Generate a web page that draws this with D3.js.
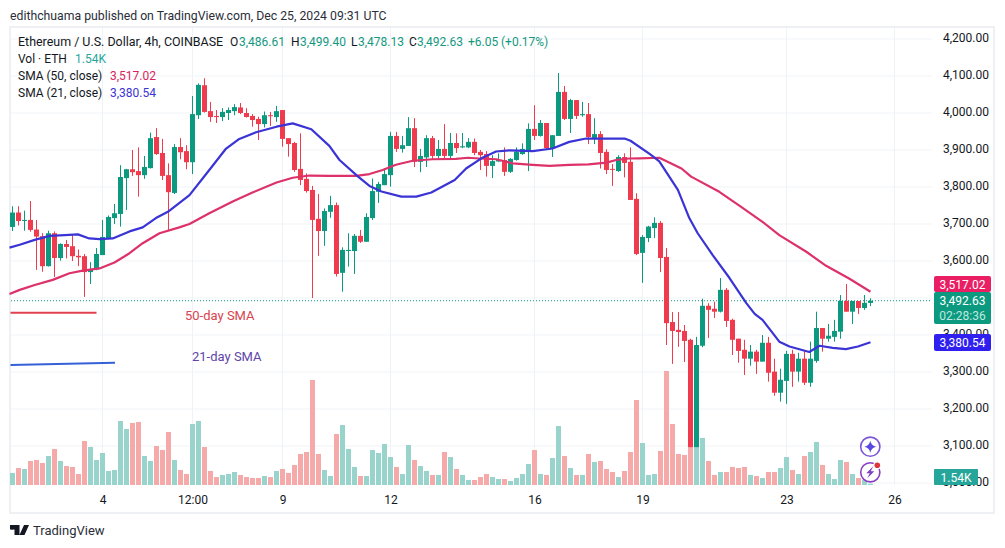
<!DOCTYPE html>
<html><head><meta charset="utf-8">
<script src="https://cdn.jsdelivr.net/npm/d3@7"></script>
<style>html,body{margin:0;padding:0;background:#fff;overflow:hidden}svg{display:block}text{font-family:Roboto,sans-serif}</style>
</head><body><svg id="c" width="1005" height="548"></svg>
<script>
const opens=[3692,3731,3709,3711,3685,3667,3586,3675,3608,3646,
3640,3614,3613,3570,3577,3616,3662,3716,3727,3824,
3848,3843,3832,3851,3935,3892,3832,3784,3908,3897,
3867,3994,4075,4005,3992,3989,4000,4005,4015,4000,
3992,3984,3970,3994,3989,4008,3932,3919,3849,3822,
3792,3714,3681,3733,3751,3568,3627,3627,3668,3652,
3716,3787,3805,3832,3938,3903,3911,3959,3868,3880,
3932,3884,3903,3884,3919,3907,3907,3922,3895,3889,
3857,3869,3873,3841,3873,3889,3900,3957,3938,3973,
3905,3938,4057,3984,4035,3994,3997,3932,3943,3895,
3849,3843,3881,3868,3768,3622,3662,3689,3703,3611,
3435,3414,3411,3387,3097,3371,3479,3471,3463,3522,
3441,3390,3360,3336,3355,3328,3379,3301,3244,3276,
3349,3301,3336,3271,3330,3419,3390,3395,3409,3492,
3463,3492,3473,3486.61];
const highs=[3748,3748,3736,3762,3711,3675,3682,3680,3648,3657,
3671,3631,3619,3597,3635,3711,3723,3754,3859,3849,
3900,3907,3884,3947,3959,3930,3864,3916,3932,3913,
4046,4080,4094,4030,4008,4013,4015,4024,4027,4013,
3997,3990,4004,4003,4019,4008,3932,3922,3945,3837,
3803,3781,3742,3776,3758,3637,3675,3673,3684,3729,
3823,3814,3850,3949,3949,3938,3989,3986,3903,3940,
3938,3927,3970,3946,3945,3946,3932,3931,3900,3897,
3886,3891,3907,3878,3907,3918,3972,4021,3981,3973,
3940,4108,4073,4038,4035,4030,4027,3986,3951,3902,
3862,3886,3891,3907,3783,3670,3695,3718,3708,3635,
3462,3462,3427,3390,3395,3498,3486,3490,3554,3527,
3444,3390,3387,3373,3360,3400,3395,3336,3309,3357,
3360,3352,3357,3382,3463,3419,3430,3441,3508,3538,
3492,3492,3508,3499.40];
const lows=[3681,3696,3682,3679,3576,3571,3585,3557,3601,3607,
3600,3586,3503,3538,3575,3616,3660,3700,3693,3738,
3830,3774,3822,3850,3887,3819,3682,3781,3875,3848,
3835,3984,4001,3976,3973,3978,3981,3994,3997,3988,
3963,3927,3961,3965,3976,3909,3882,3841,3805,3785,
3500,3614,3641,3717,3558,3517,3585,3565,3649,3652,
3711,3757,3805,3801,3895,3893,3911,3854,3840,3854,
3875,3877,3878,3877,3892,3905,3905,3886,3846,3828,
3824,3868,3830,3838,3871,3887,3843,3927,3936,3900,
3881,3938,3981,3946,3984,3990,3916,3916,3850,3835,
3803,3841,3826,3765,3616,3541,3651,3662,3570,3373,
3322,3368,3327,3097,3097,3367,3392,3446,3461,3422,
3346,3325,3292,3317,3295,3328,3274,3236,3220,3214,
3260,3274,3265,3260,3325,3355,3382,3382,3390,3463,
3430,3457,3468,3478.13];
const closes=[3731,3708,3711,3684,3666,3586,3675,3608,3646,3638,
3613,3610,3570,3577,3619,3665,3719,3729,3827,3848,
3840,3832,3854,3932,3889,3830,3786,3908,3894,3867,
3997,4076,4003,3989,3989,4003,4008,4016,4000,3989,
3981,3970,3994,3992,4005,3930,3916,3846,3819,3789,
3711,3681,3735,3751,3565,3630,3630,3668,3652,3719,
3789,3808,3835,3938,3903,3913,3959,3868,3884,3932,
3884,3903,3884,3919,3905,3910,3922,3892,3886,3857,
3870,3873,3841,3876,3895,3903,3957,3938,3973,3905,
3940,4057,3984,4035,3992,3997,3935,3943,3892,3846,
3847,3881,3865,3765,3619,3665,3693,3703,3608,3432,
3411,3408,3384,3097,3373,3479,3468,3463,3522,3438,
3387,3357,3336,3355,3328,3379,3298,3244,3279,3349,
3301,3336,3271,3336,3419,3390,3398,3411,3492,3463,
3492,3473,3487,3492.63];
const volumes=[13.9,19.6,18.5,27.7,28.9,25.4,33.5,41.6,27.7,21.9,
20.8,12.7,50.8,43.9,28.9,37,16.2,17.3,73.9,64.7,
71.6,72.8,33.5,27.7,45,40.4,61.2,28.9,17.3,12.7,
70.5,73.9,43.9,16.2,9.2,11.6,12.7,15,11.6,9.2,
8.1,8.1,10.4,9.2,16.2,18.5,13.9,23.1,35.8,38.1,
121.3,35.8,17.3,10.4,58.9,69.3,41.6,20.8,10.4,10.4,
40.4,37,47.4,32.3,20.8,12.7,46.2,28.9,21.9,16.2,
11.6,11.6,38.1,32.3,18.5,11.6,5.8,5.8,9.2,12.7,
9.2,6.9,6.9,4.6,8.1,12.7,24.3,40.4,12.7,11.6,
31.2,68.1,33.5,19.6,11.6,11.6,35.8,26.6,27.7,18.5,
15,9.2,16.2,38.1,98.2,48.5,11.6,12.7,39.3,131.7,
70.5,35.8,34.7,43.9,43.9,54.3,27.7,11.6,15,15,
20.8,19.6,20.8,11.6,10.4,8.1,15,15,19.6,32.3,
17.3,12.7,33.5,38.1,49.7,23.1,12.7,6.9,28.9,26.6,
12.7,8.1,5.8,1.54];
const sma21Bars=[-0.5,1.2,3.7,6.2,8.7,10.9,12.8,14.5,16.7,19.5,21.7,23.9,25.9,29.5,32.8,35.6,37.8,40.6,44,46.7,49.8,52.8,54.5,57.6,59.5,61.5,64.8,67.3,69.8,73.7,75.6,78.4,80.6,82.8,86.7,90,92.8,95.6,99,102,103,106.3,107.8,110.9,112.8,114.2,116.7,119.5,122.3,123.7,125,127.8,129.5,132.8,134.5,136.7,138.9,140.9,143];
const sma21=[3636,3644,3657,3668,3670,3672,3661,3659,3661,3680,3691,3716,3733,3778,3846,3904,3930,3948,3963,3972,3956,3911,3873,3828,3803,3788,3774,3774,3785,3819,3850,3880,3896,3899,3897,3904,3922,3931,3931,3931,3925,3888,3869,3792,3716,3675,3616,3554,3486,3457,3441,3382,3369,3354,3371,3365,3362,3369,3380.54];
const sma50Bars=[-0.5,1.2,3.7,6.7,9.5,11.7,14.5,17,19.5,21.7,24.5,27.8,29.5,32.8,36.7,40,44,46.7,49.5,52.8,54.5,57.3,59.5,61.7,63.9,66.7,70,73.9,75.9,77.8,80.6,83.4,86.7,89.5,92.8,96,99,100.6,102.8,104.5,107.8,111.5,113.1,117.8,121.2,125,127.8,132.3,135.6,139.5,143];
const sma50=[3511,3522,3535,3549,3567,3574,3580,3596,3621,3648,3675,3691,3700,3729,3761,3785,3812,3825,3831,3830,3830,3830,3835,3846,3860,3871,3875,3876,3879,3877,3875,3864,3860,3857,3860,3861,3866,3873,3877,3877.5,3879,3850,3828,3787,3749,3706,3670,3625,3587,3552,3517.02];
const priceTicks=[3000,3100,3200,3300,3400,3500,3600,3700,3800,3900,4000,4100,4200];
const timeTickBars=[15,30,45,63,87,105,129,147];
const timeTickLabels=["4","12:00","9","12","16","19","23","26"];

const UP="#0b9a80",DOWN="#ef3b4d",UP_V="#98d4cc",DOWN_V="#f5aaa9",BLUE="#3a33d6",RED="#dd3269";
const svg=d3.select("#c");
const x=d3.scaleLinear().domain([0,143]).range([12.5,870.5]);
const y=d3.scaleLinear().domain([3000,4200]).range([483,39]);
const yv=d3.scaleLinear().domain([0,155]).range([485,350.8]);
const fmt=d3.format(",.2f");
const idx=d3.range(closes.length);

svg.append("rect").attr("x",10).attr("y",27).attr("width",984).attr("height",486).attr("fill","#fff").attr("stroke","#eef0f4").attr("stroke-width",2);

// grid
svg.append("g").selectAll("line").data(priceTicks).join("line").attr("x1",11).attr("x2",932).attr("y1",d=>y(d)).attr("y2",d=>y(d)).attr("stroke","#f0f3f6");
svg.append("g").selectAll("line").data(timeTickBars).join("line").attr("x1",d=>x(d)).attr("x2",d=>x(d)).attr("y1",28).attr("y2",485).attr("stroke","#f0f3f6");

// volume
svg.append("g").selectAll("rect").data(idx).join("rect").attr("x",i=>x(i)-2.5).attr("width",5)
 .attr("y",i=>yv(volumes[i])).attr("height",i=>yv(0)-yv(volumes[i]))
 .attr("fill",i=>closes[i]>=opens[i]?UP_V:DOWN_V);

// last price line
svg.append("line").attr("x1",11).attr("x2",932).attr("y1",y(3492.63)).attr("y2",y(3492.63)).attr("stroke",UP).attr("stroke-dasharray","1 2");

// candles
const cg=svg.append("g");
cg.selectAll("rect.w").data(idx).join("rect").attr("class","w").attr("x",i=>x(i)-0.5).attr("width",1)
 .attr("y",i=>y(highs[i])).attr("height",i=>y(lows[i])-y(highs[i]))
 .attr("fill",i=>closes[i]>=opens[i]?UP:DOWN);
cg.selectAll("rect.b").data(idx).join("rect").attr("class","b").attr("x",i=>x(i)-2.5).attr("width",5)
 .attr("y",i=>y(Math.max(opens[i],closes[i]))).attr("height",i=>Math.max(1,Math.abs(y(opens[i])-y(closes[i]))))
 .attr("fill",i=>closes[i]>=opens[i]?UP:DOWN);

// SMAs
const mk=d3.line().x(d=>x(d[0])).y(d=>y(d[1])).curve(d3.curveLinear);
svg.append("path").attr("d",mk(d3.zip(sma50Bars,sma50))).attr("fill","none").attr("stroke",RED).attr("stroke-width",2.2).attr("stroke-linejoin","round");
svg.append("path").attr("d",mk(d3.zip(sma21Bars,sma21))).attr("fill","none").attr("stroke",BLUE).attr("stroke-width",2.2).attr("stroke-linejoin","round");

// annotations
svg.append("line").attr("x1",10.5).attr("x2",96.5).attr("y1",312.7).attr("y2",312.7).attr("stroke","#e0404f").attr("stroke-width",2);
svg.append("line").attr("x1",10.5).attr("x2",115).attr("y1",365).attr("y2",362.7).attr("stroke","#3560d8").attr("stroke-width",2);
svg.append("text").attr("x",185).attr("y",320).attr("font-size",13).attr("fill","#d9434e").text("50-day SMA");
svg.append("text").attr("x",192).attr("y",361).attr("font-size",13).attr("fill","#5e45a8").text("21-day SMA");

// price axis
const ay=svg.append("g").attr("transform","translate(935,-1)").call(d3.axisRight(y).tickValues(priceTicks).tickSize(0).tickPadding(8).tickFormat(d=>d===3500?"":fmt(d)));
ay.select(".domain").remove();
ay.selectAll("text").attr("font-size",12).attr("fill","#131722").style("font-family","Roboto,sans-serif");

// time axis
const ax=svg.append("g").attr("transform","translate(0,491)").call(d3.axisBottom(x).tickValues(timeTickBars).tickSize(0).tickPadding(4).tickFormat((d,i)=>timeTickLabels[i]));
ax.select(".domain").remove();
ax.selectAll("text").attr("font-size",12).attr("fill","#131722").style("font-family","Roboto,sans-serif");

// price tags
function tag(yy,h,col,t,t2){
 svg.append("rect").attr("x",934).attr("y",yy).attr("width",57).attr("height",h).attr("rx",2).attr("fill",col);
 svg.append("text").attr("x",962.5).attr("y",yy+12.5).attr("text-anchor","middle").attr("font-size",12).attr("fill","#fff").text(t);
 if(t2)svg.append("text").attr("x",962.5).attr("y",yy+27.5).attr("text-anchor","middle").attr("font-size",12).attr("fill","#bfe8df").text(t2);
}
tag(276,16,"#e91e63",fmt(3517.02));
tag(292,32,UP,fmt(3492.63),"02:28:36");
tag(334,17,"#2f20f0",fmt(3380.54));
svg.append("rect").attr("x",934).attr("y",469).attr("width",44).attr("height",16).attr("rx",1).attr("fill","#26a69a");
svg.append("text").attr("x",956).attr("y",481.5).attr("text-anchor","middle").attr("font-size",12).attr("fill","#fff").text("1.54K");

// header
svg.append("text").attr("x",10).attr("y",19.5).attr("font-size",12.25).attr("fill","#2a2e39").text("edithchuama published on TradingView.com, Dec 25, 2024 09:31 UTC");
const lg=svg.append("g").attr("font-size",12);
function t(px,py,s,c){lg.append("text").attr("x",px).attr("y",py).attr("fill",c).text(s);}
const TXT="#131722",G="#14997f";
t(18,46,"Ethereum / U.S. Dollar, 4h, COINBASE",TXT);
lg.select("text").attr("font-size",12.45);
t(230,46,"O",TXT);t(239,46,"3,486.61",G);
t(291,46,"H",TXT);t(300,46,"3,499.40",G);
t(351,46,"L",TXT);t(358,46,"3,478.13",G);
t(409,46,"C",TXT);t(417,46,"3,492.63",G);
t(468,46,"+6.05",G);t(501,46,"(+0.17%)",G);
t(18,63,"Vol · ETH",TXT);t(75,63,"1.54K","#26a69a");
t(18,80,"SMA (50, close)",TXT);t(110,80,"3,517.02","#d81e5b");
t(18,97,"SMA (21, close)",TXT);t(110,97,"3,380.54","#3a33d6");

// icons
svg.append("circle").attr("cx",870.3).attr("cy",446.7).attr("r",9.6).attr("fill","#fff").attr("stroke","#7e57d8").attr("stroke-width",1.6);
svg.append("path").attr("transform","translate(870.3,446.7)").attr("d","M0,-6 Q1,-1 6,0 Q1,1 0,6 Q-1,1 -6,0 Q-1,-1 0,-6Z").attr("fill","#5a48e0");
svg.append("circle").attr("cx",870.3).attr("cy",472.3).attr("r",9.6).attr("fill","#fff").attr("stroke","#8a3fc0").attr("stroke-width",1.6);
svg.append("path").attr("transform","translate(870.3,472.3)").attr("d","M3,-6 L-4,1 L-0.5,1 L-3,6 L4,-1 L0.5,-1Z").attr("fill","#7c3fc4");
svg.append("circle").attr("cx",877.3).attr("cy",465.3).attr("r",4).attr("fill","#fff");
svg.append("circle").attr("cx",877.3).attr("cy",465.3).attr("r",2.8).attr("fill","#e0343f");

// logo
svg.append("path").attr("transform","translate(10,525)").attr("d","M0,0 H9.5 V10 H4.5 V4.5 H0Z M19,0 L14.5,10 H9.5 L14,0Z").attr("fill","#131722");
svg.append("circle").attr("cx",12.2).attr("cy",527.2).attr("r",2.2).attr("fill","#131722");
svg.append("text").attr("x",33).attr("y",535).attr("font-size",13).attr("fill","#2a2e39").text("TradingView");
</script></body></html>
